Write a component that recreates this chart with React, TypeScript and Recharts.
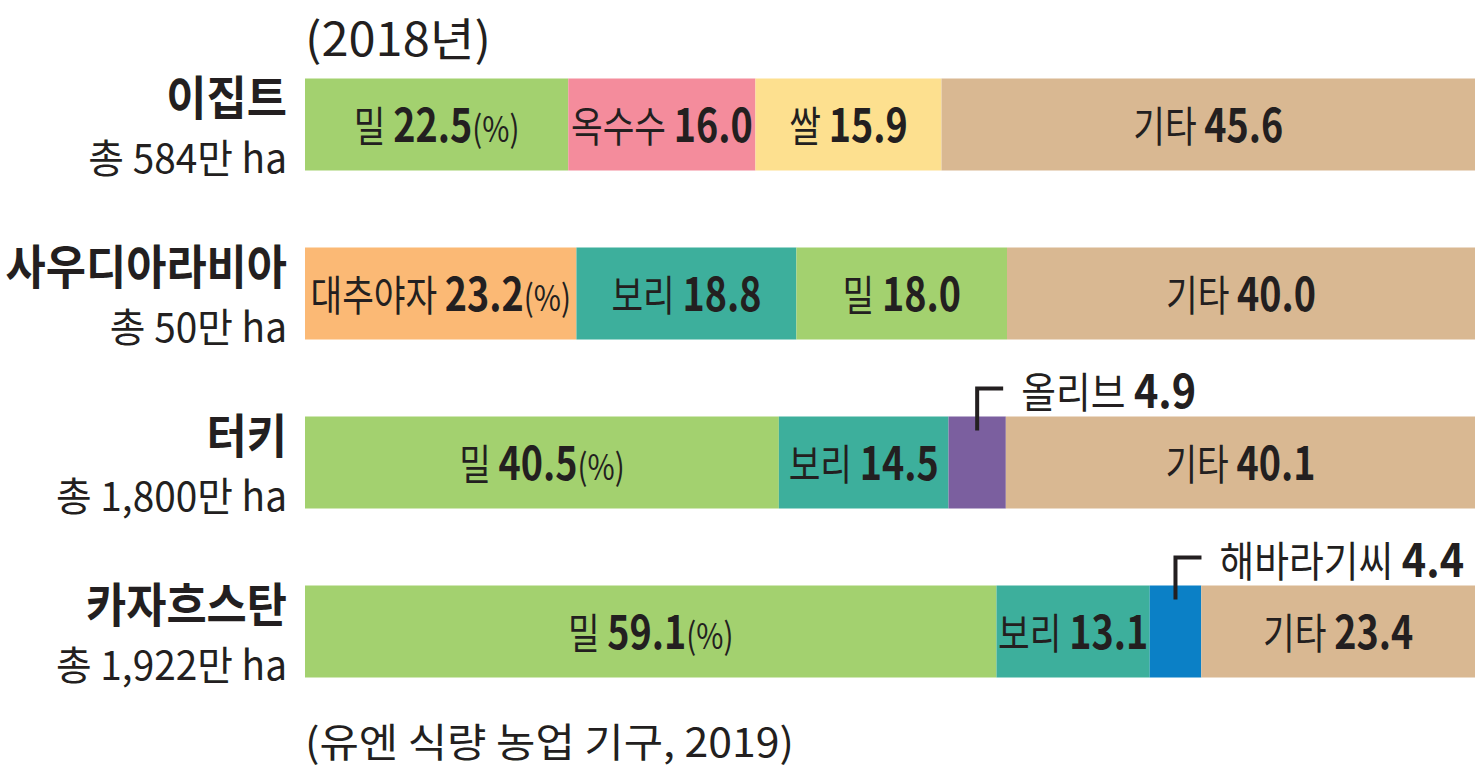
import { BarChart, Bar, XAxis, YAxis, LabelList, Cell } from "recharts";

// 2018년 국가별 작물 재배 면적 비율 (%)
const countries = ["이집트", "사우디아라비아", "터키", "카자흐스탄"];
const totals = ["총 584만 ha", "총 50만 ha", "총 1,800만 ha", "총 1,922만 ha"];

const crops1 = ["밀", "대추야자", "밀", "밀"];
const values1 = [22.5, 23.2, 40.5, 59.1];
const crops2 = ["옥수수", "보리", "보리", "보리"];
const values2 = [16.0, 18.8, 14.5, 13.1];
const crops3 = ["쌀", "밀", "올리브", "해바라기씨"];
const values3 = [15.9, 18.0, 4.9, 4.4];
const crops4 = ["기타", "기타", "기타", "기타"];
const values4 = [45.6, 40.0, 40.1, 23.4];

const cropColors: Record<string, string> = {
  밀: "#a3d16f",
  옥수수: "#f48c9c",
  쌀: "#fde08f",
  대추야자: "#fbb975",
  보리: "#3daf9c",
  올리브: "#7b5f9f",
  해바라기씨: "#0b80c6",
  기타: "#d9b892",
};

const ink = "#231f20";
const font = "'Noto Sans CJK KR', 'Noto Sans', sans-serif";

const data = countries.map((c, i) => ({
  country: c,
  s1: values1[i],
  s2: values2[i],
  s3: values3[i],
  s4: values4[i],
}));

const slots = [
  { key: "s1", crops: crops1, values: values1 },
  { key: "s2", crops: crops2, values: values2 },
  { key: "s3", crops: crops3, values: values3 },
  { key: "s4", crops: crops4, values: values4 },
];

function CountryTick(props: any) {
  const { x, y, payload, index } = props;
  const i = typeof index === "number" ? index : countries.indexOf(payload.value);
  return (
    <g transform={`translate(${x},${y})`} fontFamily={font} fill={ink}>
      <text
        transform="translate(0,-9) scale(0.93,1)"
        textAnchor="end"
        fontSize={47}
        fontWeight={700}
      >
        {payload.value}
      </text>
      <text transform="translate(0,49) scale(0.97,1)" textAnchor="end" fontSize={40}>
        {totals[i]}
      </text>
    </g>
  );
}

function segmentLabel(crops: string[], values: number[], first: boolean) {
  return (props: any) => {
    const { x, y, width, height, index } = props;
    const name = crops[index];
    const v = values[index].toFixed(1);
    const cx = x + width / 2;
    if (width < 80) {
      // 좁은 막대는 위쪽으로 지시선
      return (
        <g fontFamily={font} fill={ink}>
          <polyline
            points={`${cx},${y + 14} ${cx},${y - 28} ${cx + 26},${y - 28}`}
            fill="none"
            stroke={ink}
            strokeWidth={4}
          />
          <text transform={`translate(${cx + 44},${y - 9}) scale(0.9,1)`}>
            <tspan fontSize={42}>{name} </tspan>
            <tspan fontSize={46} fontWeight={700}>{v}</tspan>
          </text>
        </g>
      );
    }
    return (
      <text
        transform={`translate(${cx},${y + height / 2 + 17}) scale(0.82,1)`}
        textAnchor="middle"
        fontFamily={font}
        fill={ink}
      >
        <tspan fontSize={42}>{name} </tspan>
        <tspan fontSize={46} fontWeight={700}>{v}</tspan>
        {first && <tspan fontSize={36}>(%)</tspan>}
      </text>
    );
  };
}

export default function App() {
  return (
    <div style={{ position: "absolute", left: 0, top: 0, background: "#fff" }}>
      <BarChart
        width={1483}
        height={781}
        data={data}
        layout="vertical"
        margin={{ top: 39.5, right: 8, bottom: 65.5, left: 0 }}
      >
        <XAxis type="number" domain={[0, 100]} hide />
        <YAxis
          type="category"
          dataKey="country"
          width={305}
          axisLine={false}
          tickLine={false}
          tickSize={0}
          tickMargin={18}
          tick={<CountryTick />}
        />
        {slots.map((s, si) => (
          <Bar
            key={s.key}
            dataKey={s.key}
            stackId="a"
            barSize={92}
            isAnimationActive={false}
          >
            {data.map((_, i) => (
              <Cell key={`c-${s.key}-${i}`} fill={cropColors[s.crops[i]]} />
            ))}
            <LabelList
              dataKey={s.key}
              content={segmentLabel(s.crops, s.values, si === 0)}
            />
          </Bar>
        ))}
        <text
          transform="translate(305,56) scale(1.06,1)"
          fontFamily={font}
          fontSize={46}
          fill={ink}
        >
          (2018년)
        </text>
        <text
          transform="translate(305,757) scale(1.07,1)"
          fontFamily={font}
          fontSize={40}
          fill={ink}
        >
          (유엔 식량 농업 기구, 2019)
        </text>
      </BarChart>
    </div>
  );
}
